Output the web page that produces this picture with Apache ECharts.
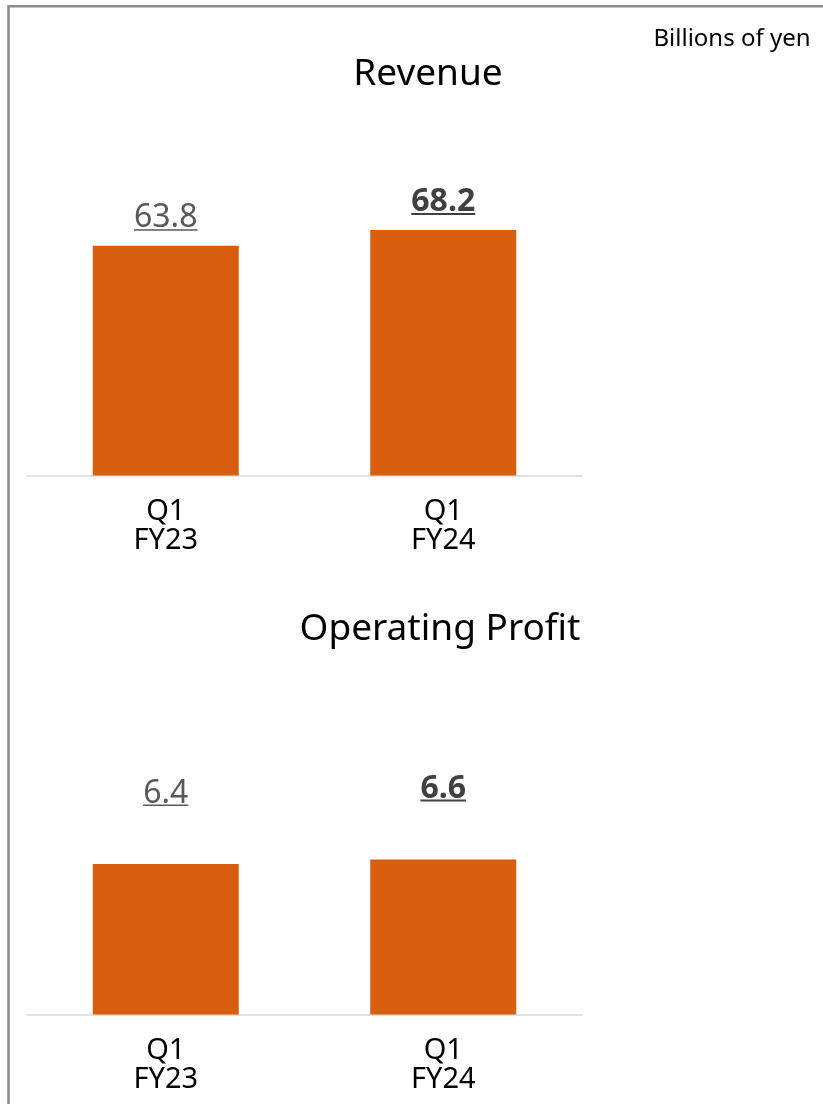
<!DOCTYPE html>
<html>
<head>
<meta charset="utf-8">
<script src="https://cdn.jsdelivr.net/npm/echarts@6/dist/echarts.min.js"></script>
<style>
  html, body { margin: 0; padding: 0; background: #fff; }
  #chart { width: 823px; height: 1104px; }
</style>
</head>
<body>
<div id="chart"></div>
<script>
// data
const categories = ['Q1\nFY23', 'Q1\nFY24'];
const revenue = [63.8, 68.2];
const operatingProfit = [6.4, 6.6];
const boldLabels = [false, true];

const FONT = '"Noto Sans", "Open Sans", sans-serif';
const BAR = '#D85D0D';

const measureCtx = document.createElement('canvas').getContext('2d');
function textWidth(txt, font) {
  measureCtx.font = font;
  return measureCtx.measureText(txt).width;
}

// value labels: number + underline drawn as a thin rich token under it
function labelled(values) {
  return values.map(function (v, i) {
    const bold = boldLabels[i];
    const txt = v.toFixed(1);
    const color = bold ? '#404040' : '#595959';
    const w = textWidth(txt, (bold ? 'bold ' : '') + '32px ' + FONT);
    return {
      value: v,
      label: {
        formatter: '{t|' + txt + '}\n{u| }',
        rich: {
          t: { fontSize: 32, fontFamily: FONT, fontWeight: bold ? 'bold' : 'normal', color: color, lineHeight: 22 },
          u: { width: w, height: bold ? 2 : 1.5, lineHeight: bold ? 2 : 1.5, fontSize: 1, backgroundColor: color }
        }
      }
    };
  });
}

const myChart = echarts.init(document.getElementById('chart'));

const xAxisBase = {
  type: 'category',
  data: categories,
  axisTick: { show: false },
  axisLine: { lineStyle: { color: '#d9d9d9', width: 1.5 } },
  axisLabel: { color: '#000', fontSize: 29, lineHeight: 29, fontFamily: FONT, margin: 22 }
};

let option = {
  animation: false,
  backgroundColor: '#fff',
  graphic: [
    { type: 'rect', shape: { x: 8.5, y: 6.2, width: 1000, height: 1300 }, style: { fill: 'none', stroke: '#8a8a8a', lineWidth: 2.5 }, silent: true },
    { type: 'text', x: 732, y: 39.5, style: { text: 'Billions of yen', font: '24px ' + FONT, fill: '#000', align: 'center', verticalAlign: 'middle' } },
    { type: 'text', x: 428, y: 74.5, style: { text: 'Revenue', font: '37px ' + FONT, fill: '#000', align: 'center', verticalAlign: 'middle' } },
    { type: 'text', x: 440, y: 629, style: { text: 'Operating Profit', font: '37px ' + FONT, fill: '#000', align: 'center', verticalAlign: 'middle' } }
  ],
  grid: [
    { left: 27, width: 555, top: 187.5, height: 288 },
    { left: 27, width: 555, top: 779.5, height: 235 }
  ],
  xAxis: [
    Object.assign({ gridIndex: 0 }, xAxisBase),
    Object.assign({ gridIndex: 1 }, xAxisBase)
  ],
  yAxis: [
    { gridIndex: 0, type: 'value', min: 0, max: 80, show: false, splitLine: { show: false } },
    { gridIndex: 1, type: 'value', min: 0, max: 10, show: false, splitLine: { show: false } }
  ],
  series: [
    {
      name: 'Revenue',
      type: 'bar',
      xAxisIndex: 0,
      yAxisIndex: 0,
      barWidth: 146,
      itemStyle: { color: BAR },
      label: { show: true, position: 'top', distance: 15 },
      data: labelled(revenue)
    },
    {
      name: 'Operating Profit',
      type: 'bar',
      xAxisIndex: 1,
      yAxisIndex: 1,
      barWidth: 146,
      itemStyle: { color: BAR },
      label: { show: true, position: 'top', distance: 58 },
      data: labelled(operatingProfit)
    }
  ]
};

myChart.setOption(option);
window.addEventListener('resize', function () {
  myChart.resize();
});
</script>
</body>
</html>
